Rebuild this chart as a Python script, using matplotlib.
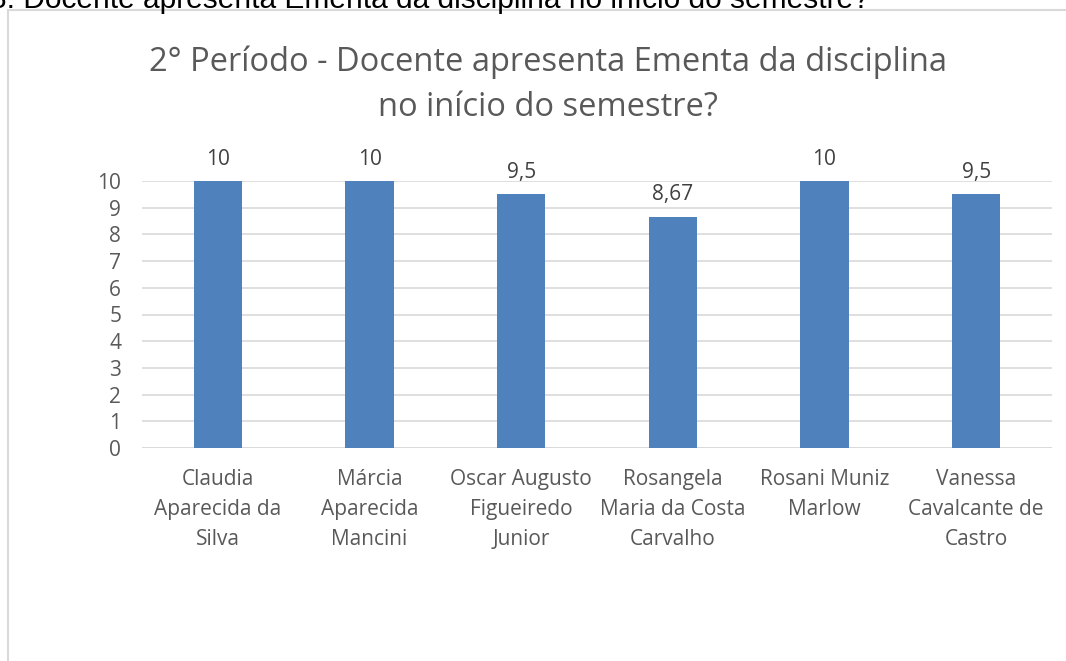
import matplotlib
matplotlib.use("Agg")
import matplotlib.pyplot as plt
from matplotlib.patches import Rectangle

categories = ["Claudia\nAparecida da\nSilva", "Márcia\nAparecida\nMancini",
              "Oscar Augusto\nFigueiredo\nJunior", "Rosangela\nMaria da Costa\nCarvalho",
              "Rosani Muniz\nMarlow", "Vanessa\nCavalcante de\nCastro"]
values = [10, 10, 9.5, 8.67, 10, 9.5]
value_labels = ["10", "10", "9,5", "8,67", "10", "9,5"]
yticks = list(range(0, 11))

W, H = 1066, 661
fig = plt.figure(figsize=(W/100, H/100), dpi=100)
fig.patch.set_facecolor("white")

# outer chart frame (cut by the image edges)
fig.patches.append(Rectangle((7.5/W, -0.05), 1.2, 1 - 10/H + 0.05, transform=fig.transFigure,
                             fill=False, edgecolor="#d9d9d9", linewidth=1.5))
# document text above chart (cut off by the top edge)
fig.text(-10/W, 1 - 8/H, "3. Docente apresenta Ementa da disciplina no início do semestre?",
         fontsize=21.5, family="Liberation Sans", color="black", va="baseline", ha="left")

ax = fig.add_axes([142/W, 1 - 448/H, (1052-142)/W, (448-181)/H])
x = list(range(len(categories)))
ax.bar(x, values, width=0.32, color="#4f81bd", zorder=3)
ax.set_xlim(-0.5, len(categories) - 0.5)
ax.set_ylim(0, 10)
ax.set_yticks(yticks)
ax.set_yticklabels([str(t) for t in yticks], fontsize=15, color="#595959", family="Open Sans")
ax.set_xticks(x)
ax.set_xticklabels(categories, fontsize=15, color="#595959", family="Open Sans", linespacing=1.56)
ax.tick_params(axis="both", length=0)
ax.tick_params(axis="y", pad=15)
ax.tick_params(axis="x", pad=15)
ax.yaxis.grid(True, color="#d9d9d9", linewidth=1.2, zorder=0)
for s in ax.spines.values():
    s.set_visible(False)
ax.axhline(0, color="#d9d9d9", linewidth=1.2, zorder=1)
for xi, v, lab in zip(x, values, value_labels):
    ax.annotate(lab, (xi, v), xytext=(0, 8), textcoords="offset points", ha="center",
                va="bottom", fontsize=15, color="#404040", family="Open Sans")

fig.text(548/W, 1 - 85/H, "2° Período - Docente apresenta Ementa da disciplina\nno início do semestre?",
         ha="center", va="center", fontsize=23.5, color="#595959", family="Open Sans", linespacing=1.5)

fig.savefig("out.png", dpi=100)
